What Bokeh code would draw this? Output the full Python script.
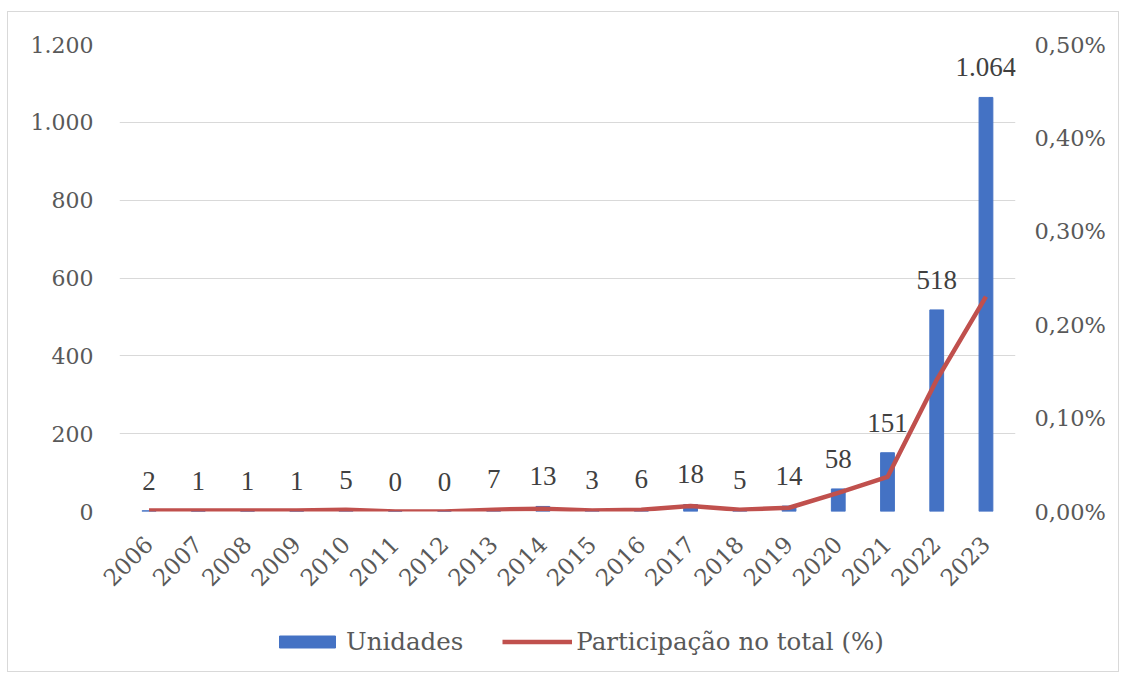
import math
from bokeh.plotting import figure
from bokeh.layouts import column
from bokeh.models import (ColumnDataSource, LinearAxis, Range1d, FactorRange, FixedTicker,
                          LabelSet, Legend, LegendItem)
from bokeh.embed import file_html
from bokeh.resources import INLINE

# ---- data ----
years = [str(y) for y in range(2006, 2024)]
unidades = [2, 1, 1, 1, 5, 0, 0, 7, 13, 3, 6, 18, 5, 14, 58, 151, 518, 1064]
participacao = [0.001, 0.001, 0.001, 0.001, 0.002, 0.000, 0.000, 0.002, 0.003, 0.001,
                0.002, 0.006, 0.002, 0.004, 0.020, 0.037, 0.141, 0.230]
left_ticks = [0, 200, 400, 600, 800, 1000, 1200]
left_tick_labels = ["0", "200", "400", "600", "800", "1.000", "1.200"]
right_ticks = [0.0, 0.1, 0.2, 0.3, 0.4, 0.5]
right_tick_labels = ["0,00%", "0,10%", "0,20%", "0,30%", "0,40%", "0,50%"]
series_names = ["Unidades", "Participação no total (%)"]


def fmt_pt(v):
    return f"{v:,}".replace(",", ".")


src = ColumnDataSource(dict(
    year=years,
    units=unidades,
    pct=participacao,
    lab=[fmt_pt(v) for v in unidades],
))

FONT = "DejaVu Serif"
TXT = "#595959"
BAR_C = "#4472C4"
LINE_C = "#C0504D"

xr = FactorRange(*years, range_padding=0.1, range_padding_units="absolute")

p = figure(width=1110, height=588, x_range=xr,
           y_range=Range1d(0, 1200), output_backend="svg", toolbar_location=None,
           min_border_left=111, min_border_right=103, min_border_top=32, min_border_bottom=89)
p.outline_line_color = None
p.background_fill_color = "white"
p.border_fill_color = "white"
p.extra_y_ranges = {"pct": Range1d(0, 0.5)}

bars = p.vbar(x="year", top="units", width=0.28, source=src, color=BAR_C)
line = p.line(x="year", y="pct", source=src, y_range_name="pct", color=LINE_C,
              line_width=4.5, line_join="round")

p.xgrid.grid_line_color = None
p.ygrid.grid_line_color = "#d9d9d9"
p.ygrid.grid_line_width = 1

p.yaxis.ticker = FixedTicker(ticks=left_ticks)
p.yaxis.major_label_overrides = {t: l for t, l in zip(left_ticks, left_tick_labels)}
p.yaxis.axis_line_color = None
p.yaxis.major_tick_line_color = None
p.yaxis.minor_tick_line_color = None
p.yaxis.major_label_standoff = 20
p.yaxis.major_label_text_font = FONT
p.yaxis.major_label_text_font_size = "22px"
p.yaxis.major_label_text_color = TXT

ry = LinearAxis(y_range_name="pct", ticker=FixedTicker(ticks=right_ticks))
ry.major_label_overrides = {t: l for t, l in zip(right_ticks, right_tick_labels)}
ry.axis_line_color = None
ry.major_tick_line_color = None
ry.minor_tick_line_color = None
ry.major_label_standoff = 13
ry.major_label_text_font = FONT
ry.major_label_text_font_size = "22.5px"
ry.major_label_text_color = TXT
p.add_layout(ry, "right")

p.xaxis.axis_line_color = None
p.xaxis.major_tick_line_color = None
p.xaxis.minor_tick_line_color = None
p.xaxis.major_label_orientation = math.pi / 4
p.xaxis.major_label_standoff = 23
p.xaxis.major_label_text_font = FONT
p.xaxis.major_label_text_font_size = "23px"
p.xaxis.major_label_text_color = TXT

labels = LabelSet(x="year", y="units", text="lab", source=src, y_offset=21,
                  text_align="center", text_baseline="alphabetic",
                  text_font=FONT, text_font_size="27px", text_color="#404040")
p.add_layout(labels)

# ---- legend strip ----
lf = figure(width=1110, height=71, x_range=Range1d(0, 1), y_range=Range1d(0, 1),
            output_backend="svg", toolbar_location=None, x_axis_type=None, y_axis_type=None,
            min_border_left=0, min_border_right=0, min_border_top=0, min_border_bottom=0)
lf.outline_line_color = None
lf.grid.grid_line_color = None
dummy = ColumnDataSource(dict(x=[-5], top=[-5], y=[-5]))
lb = lf.vbar(x="x", top="top", width=0.1, source=dummy, color=BAR_C)
ll = lf.line(x="x", y="y", source=dummy, color=LINE_C, line_width=4.5)
legend = Legend(items=[LegendItem(label=series_names[0], renderers=[lb]),
                       LegendItem(label=series_names[1], renderers=[ll])],
                orientation="horizontal", location=(153, 15),
                glyph_width=70, glyph_height=15, label_standoff=4, spacing=39,
                padding=0, margin=0, border_line_color=None, background_fill_alpha=0,
                label_text_font=FONT, label_text_font_size="24.5px", label_text_color=TXT)
lf.add_layout(legend, "center")

layout = column(p, lf, spacing=0)
layout.styles = {"border": "1px solid #d9d9d9", "margin-left": "7px", "margin-top": "11px"}

open("out.html", "w").write(file_html(layout, INLINE))
